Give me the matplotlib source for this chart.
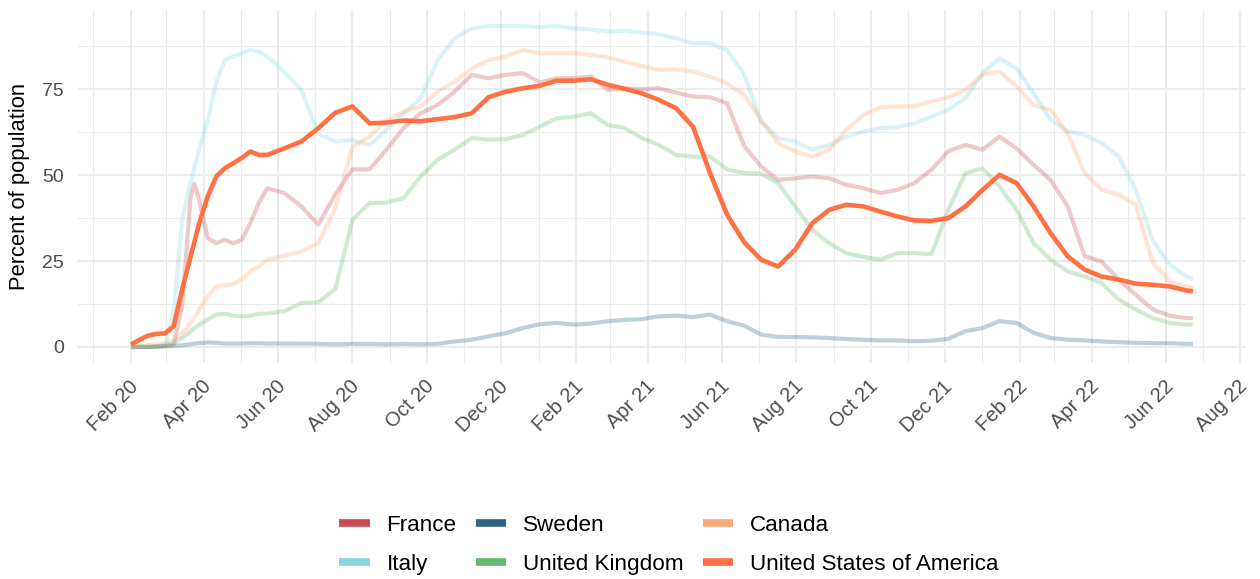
import numpy as np
import matplotlib
matplotlib.use("Agg")
import matplotlib.pyplot as plt
import matplotlib.dates as mdates
import matplotlib.transforms as mtransforms
from matplotlib.lines import Line2D

plt.rcParams['font.family'] = ['Liberation Sans', 'DejaVu Sans']

# ---- data ----
start_date = np.datetime64('2020-02-01')
day_offsets = [0, 7, 14, 21, 28, 35, 42, 49, 52, 56, 63, 70, 77, 84, 91, 98, 105, 112] \
    + list(range(126, 869, 14)) + [873]
dates = start_date + np.array(day_offsets).astype('timedelta64[D]')

usa = [0.7, 2.1, 3.3, 3.8, 4.0, 6.0, 16.7, 26.4, 30.5, 36.0, 43.8, 49.6, 52.0, 53.5, 55.0, 56.9, 55.9, 55.9,
       57.8, 59.8, 63.7, 68.2, 70.0, 65.1, 65.3, 65.9, 65.7, 66.3, 66.9, 68.0, 72.7, 74.3, 75.3, 76.0, 77.5,
       77.5, 77.9, 76.3, 75.1, 73.8, 71.9, 69.5, 64.1, 50.6, 38.5, 30.5, 25.4, 23.4, 28.3, 36.0, 39.9, 41.4,
       40.9, 39.4, 38.0, 36.8, 36.7, 37.5, 40.9, 45.7, 50.1, 47.7, 40.9, 33.1, 26.4, 22.5, 20.5, 19.6, 18.4,
       18.1, 17.6, 16.4, 16.2]
italy = [0, 0, 0, 0, 0.3, 10, 37, 48, 52, 57.5, 66, 77, 83.5, 84.5, 85.5, 86.4, 86, 84.5,
         80, 74.8, 62, 59.8, 60.3, 58.8, 63.2, 68, 72.4, 83.5, 89.8, 92.7, 93.4, 93.4, 93.4, 93.1, 93.4,
         92.7, 92.4, 91.8, 92, 91.5, 91, 89.8, 88.4, 88.4, 86.4, 79.5, 65.5, 60.8, 59.8, 57.4, 58.8, 61.2,
         62.7, 63.7, 64, 65.1, 67, 69, 72.4, 79.7, 84, 81.1, 73.8, 66.1, 62.7, 61.7, 59.3, 55.4, 45.7, 31,
         23.9, 20.5, 19.6]
canada = [0, 0.2, 0.5, 0.8, 1.2, 2.1, 4, 7, 8.5, 10.9, 14.7, 17.6, 18, 18.3, 19.6, 22, 23.4, 25.4,
          26.6, 27.8, 30.2, 40.5, 58.3, 61.2, 66, 68.5, 70, 74.3, 77.2, 81, 83.5, 84.5, 86.4, 85.5, 85.5,
          85.5, 85, 84.3, 83, 81.8, 80.6, 80.8, 80.1, 78.7, 76.7, 73.4, 66, 59.3, 56.9, 55.4, 57.4, 63.2,
          67.5, 69.8, 70, 70, 71.5, 72.7, 74.8, 79.2, 80.1, 75.8, 70.4, 69, 62.2, 50.6, 45.7, 44.3, 41.4,
          24.5, 19, 17.6, 17.2]
france = [0, 0, 0, 0.1, 0.3, 0.6, 12, 43.8, 47.5, 42.8, 31.7, 30.2, 31.2, 30.2, 31.2, 36, 41.9, 46.2,
          44.8, 40.9, 35.6, 44.5, 51.7, 51.7, 57.4, 63.7, 68, 70.4, 74.3, 79.2, 78.2, 79.2, 79.7, 77, 78.2,
          78.2, 78.7, 74.8, 75.3, 75, 75.3, 74, 72.9, 72.7, 70.9, 58.5, 52.5, 48.6, 49.1, 49.6, 49.1, 47.2,
          46.2, 44.8, 45.7, 47.7, 51.6, 57, 58.8, 57.4, 61.2, 57.8, 53, 48.6, 40.9, 26.4, 24.9, 19.6, 15.2,
          10.9, 9.1, 8.4, 8.4]
uk = [0, 0, 0.1, 0.2, 0.5, 1.2, 2.6, 4.6, 5.5, 6.5, 8, 9.4, 9.7, 9.1, 8.9, 9.1, 9.7, 9.7,
      10.4, 12.8, 13, 17, 37, 41.9, 42, 43.3, 49.6, 54.5, 57.4, 60.8, 60.3, 60.5, 61.7, 64.1, 66.6, 67,
      68, 64.6, 63.7, 60.8, 58.8, 55.9, 55.4, 55.4, 51.7, 50.6, 50.4, 47.7, 40.9, 34.1, 30.2, 27.3, 26.2,
      25.4, 27.3, 27.3, 27, 40, 50.6, 52, 46.7, 39.9, 30.2, 25.4, 22, 20.5, 18.6, 13.8, 10.9, 8.4, 7,
      6.5, 6.5]
sweden = [0, 0, 0, 0.1, 0.2, 0.3, 0.5, 0.8, 1.0, 1.1, 1.3, 1.2, 1.0, 1.0, 1.0, 1.1, 1.1, 1.0,
          1.0, 1.0, 0.9, 0.8, 0.9, 0.9, 0.8, 0.9, 0.8, 0.9, 1.6, 2.1, 3.1, 4.0, 5.5, 6.6, 7.0, 6.5, 6.8,
          7.5, 7.9, 8.1, 8.9, 9.1, 8.7, 9.4, 7.5, 6.2, 3.6, 2.9, 2.9, 2.8, 2.6, 2.3, 2.1, 1.9, 1.9, 1.7,
          1.8, 2.4, 4.6, 5.5, 7.5, 7.0, 4.1, 2.6, 2.1, 1.9, 1.6, 1.4, 1.2, 1.1, 1.1, 0.9, 0.9]

countries = ['France', 'Sweden', 'Canada', 'Italy', 'United Kingdom', 'United States of America']
series = {'France': france, 'Sweden': sweden, 'Canada': canada, 'Italy': italy,
          'United Kingdom': uk, 'United States of America': usa}
colors = {'France': '#c84c56', 'Sweden': '#2d6683', 'Canada': '#ffa877', 'Italy': '#87d3e0',
          'United Kingdom': '#64b96d', 'United States of America': '#ff7043'}
y_ticks = [0, 25, 50, 75]

# ---- figure ----
fig = plt.figure(figsize=(12.6, 5.79), dpi=100)
ax = fig.add_axes([78 / 1260, 1 - 363 / 579, (1246 - 78) / 1260, (363 - 10) / 579])

grid_c = '#ebebeb'
x0 = mdates.date2num(start_date)
ax.set_xlim(x0 - 43.65, x0 + 916.65)
ax.set_ylim(-4.67, 98.07)

ax.xaxis.set_major_locator(mdates.MonthLocator(bymonth=[2, 4, 6, 8, 10, 12]))
ax.xaxis.set_minor_locator(mdates.MonthLocator(bymonth=[1, 3, 5, 7, 9, 11]))
ax.xaxis.set_major_formatter(mdates.DateFormatter('%b %y'))
ax.set_yticks(y_ticks)
ax.set_yticks([12.5, 37.5, 62.5, 87.5], minor=True)

ax.grid(which='major', color=grid_c, lw=1.5)
ax.grid(which='minor', color=grid_c, lw=0.8)
ax.set_axisbelow(True)
for s in ax.spines.values():
    s.set_visible(False)
ax.tick_params(which='both', length=0)
ax.tick_params(axis='y', labelsize=14, labelcolor='#4d4d4d', pad=10)
ax.tick_params(axis='x', labelsize=14.5, labelcolor='#4d4d4d', pad=10)

offset = mtransforms.ScaledTranslation(11 / 100, 0, fig.dpi_scale_trans)
for lbl in ax.get_xticklabels():
    lbl.set_rotation(45)
    lbl.set_ha('right')
    lbl.set_transform(lbl.get_transform() + offset)

for c in ['France', 'Italy', 'Sweden', 'United Kingdom', 'Canada']:
    ax.plot(dates, series[c], color=colors[c], lw=3.0, alpha=0.3, solid_capstyle='butt',
            solid_joinstyle='round')
ax.plot(dates, usa, color=colors['United States of America'], lw=3.3,
        solid_capstyle='butt', solid_joinstyle='round')

ax.set_ylabel('Percent of population', fontsize=15.8, color='black')
ax.yaxis.set_label_coords(-0.041, 0.5)

order = ['France', 'Italy', 'Sweden', 'United Kingdom', 'Canada', 'United States of America']
handles = [Line2D([], [], color=colors[c], lw=5.5, solid_capstyle='butt') for c in order]
fig.legend(handles, order, ncol=3, loc='center', bbox_to_anchor=(669 / 1260, 1 - 545 / 579),
           frameon=False, fontsize=16.2, handlelength=1.35, handletextpad=0.75,
           columnspacing=0.85, labelspacing=0.8)

fig.savefig('out.png', dpi=100)
